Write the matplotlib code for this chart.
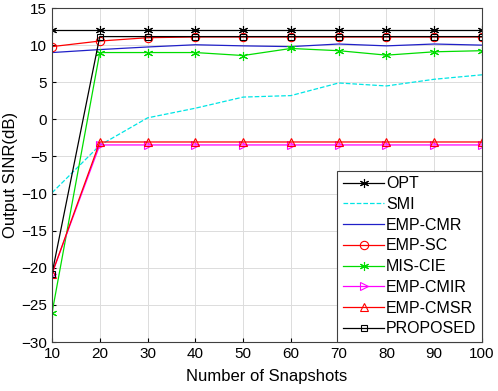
import matplotlib
matplotlib.use('Agg')
import matplotlib.pyplot as plt

plt.rcParams['font.family'] = ['Liberation Sans', 'DejaVu Sans']

snapshots = [10, 20, 30, 40, 50, 60, 70, 80, 90, 100]
opt = [12.0, 12.0, 12.0, 12.0, 12.0, 12.0, 12.0, 12.0, 12.0, 12.0]
smi = [-9.9, -3.5, 0.2, 1.5, 3.0, 3.2, 4.9, 4.5, 5.4, 6.0]
emp_cmr = [9.0, 9.4, 9.75, 10.05, 9.9, 9.8, 10.15, 9.9, 10.15, 10.0]
emp_sc = [9.8, 10.55, 11.0, 11.1, 11.1, 11.1, 11.1, 11.1, 11.1, 11.1]
mis_cie = [-26.1, 9.0, 9.0, 9.0, 8.6, 9.55, 9.25, 8.65, 9.1, 9.25]
emp_cmir = [-20.8, -3.45, -3.45, -3.45, -3.45, -3.45, -3.45, -3.45, -3.45, -3.45]
emp_cmsr = [-20.8, -3.05, -3.05, -3.05, -3.05, -3.05, -3.05, -3.05, -3.05, -3.05]
proposed = [-20.8, 11.15, 11.15, 11.15, 11.15, 11.15, 11.15, 11.15, 11.15, 11.15]

fig = plt.figure(figsize=(4.98, 3.91), dpi=100)
ax = fig.add_axes([0.1044, 0.1253, 0.8635, 0.8542])

lw = 0.9
ms = 6
star = (6, 2, 0)  # asterisk like matlab '*'
ax.plot(snapshots, opt, '-', marker=star, color='k', lw=lw, ms=6.5, mew=0.8, label='OPT')
ax.plot(snapshots, smi, '--', color='#00e5e5', lw=lw, label='SMI')
ax.plot(snapshots, emp_cmr, '-', color='#2020c8', lw=lw, label='EMP-CMR')
ax.plot(snapshots, emp_sc, '-o', color='#ff0000', lw=lw, ms=ms, mfc='none', mew=0.8, label='EMP-SC')
ax.plot(snapshots, mis_cie, '-', marker=star, color='#00dd00', lw=lw, ms=6.5, mew=0.8, label='MIS-CIE')
ax.plot(snapshots, emp_cmir, '->', color='#ff00ff', lw=lw, ms=ms, mfc='none', mew=0.8, label='EMP-CMIR')
ax.plot(snapshots, emp_cmsr, '-^', color='#ff0000', lw=lw, ms=ms, mfc='none', mew=0.8, label='EMP-CMSR')
ax.plot(snapshots, proposed, '-s', color='k', lw=lw, ms=5, mfc='none', mew=0.8, label='PROPOSED')

ax.set_xlim(10, 100)
ax.set_ylim(-30, 15)
ax.set_xticks(range(10, 101, 10))
ax.set_yticks(range(-30, 16, 5))
ax.grid(True, color='#dcdcdc', lw=0.7)
ax.tick_params(labelsize=11, direction='in', length=3)
for s in ax.spines.values():
    s.set_color('#404040')
    s.set_linewidth(0.8)

ax.set_xlabel('Number of Snapshots', fontsize=12, labelpad=6)
ax.set_ylabel('Output SINR(dB)', fontsize=12, labelpad=2)

leg = ax.legend(loc='lower right', fontsize=11.5, borderaxespad=0, handlelength=2.6,
                fancybox=False, edgecolor='#404040', framealpha=1,
                labelspacing=0.36, handletextpad=0.1, borderpad=0.35)
leg.get_frame().set_linewidth(0.8)

fig.savefig('out.png', dpi=100)
